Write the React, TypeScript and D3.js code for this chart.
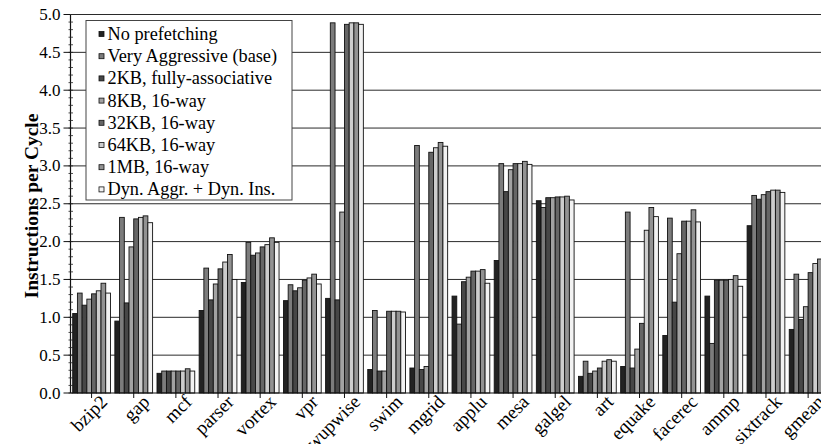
import React from "react";
import * as d3 from "d3";

const categories = [
  "bzip2", "gap", "mcf", "parser", "vortex", "vpr", "wupwise", "swim", "mgrid",
  "applu", "mesa", "galgel", "art", "equake", "facerec", "ammp", "sixtrack", "gmean",
];

const seriesNames = [
  "No prefetching",
  "Very Aggressive (base)",
  "2KB, fully-associative",
  "8KB, 16-way",
  "32KB, 16-way",
  "64KB, 16-way",
  "1MB, 16-way",
  "Dyn. Aggr. + Dyn. Ins.",
];

const noPrefetching = [1.05, 0.95, 0.26, 1.09, 1.46, 1.22, 1.25, 0.31, 0.33, 1.28, 1.75, 2.54, 0.22, 0.35, 0.76, 1.28, 2.21, 0.84];
const veryAggressive = [1.32, 2.32, 0.29, 1.65, 1.99, 1.43, 4.89, 1.09, 3.27, 0.91, 3.03, 2.45, 0.42, 2.39, 2.31, 0.655, 2.61, 1.57];
const kb2FullyAssoc = [1.16, 1.19, 0.29, 1.23, 1.82, 1.35, 1.23, 0.29, 0.31, 1.47, 2.66, 2.58, 0.26, 0.33, 1.2, 1.49, 2.56, 0.97];
const kb8Way16 = [1.24, 1.93, 0.29, 1.44, 1.85, 1.39, 2.39, 0.29, 0.35, 1.53, 2.95, 2.58, 0.29, 0.58, 1.84, 1.49, 2.62, 1.14];
const kb32Way16 = [1.31, 2.3, 0.29, 1.64, 1.93, 1.49, 4.87, 1.08, 3.18, 1.61, 3.03, 2.59, 0.33, 0.92, 2.27, 1.49, 2.66, 1.59];
const kb64Way16 = [1.35, 2.32, 0.29, 1.73, 1.96, 1.52, 4.89, 1.08, 3.24, 1.61, 3.03, 2.59, 0.42, 2.15, 2.27, 1.5, 2.68, 1.71];
const mb1Way16 = [1.45, 2.34, 0.32, 1.83, 2.05, 1.57, 4.89, 1.08, 3.31, 1.63, 3.06, 2.6, 0.44, 2.45, 2.42, 1.55, 2.68, 1.77];
const dynAggrDynIns = [1.32, 2.25, 0.29, 1.5, 1.99, 1.44, 4.87, 1.07, 3.26, 1.45, 3.02, 2.55, 0.42, 2.33, 2.26, 1.41, 2.65, 1.65];

const seriesValues = [
  noPrefetching, veryAggressive, kb2FullyAssoc, kb8Way16,
  kb32Way16, kb64Way16, mb1Way16, dynAggrDynIns,
];

const seriesColors = ["#222222", "#7c7c7c", "#474747", "#a2a2a2", "#666666", "#cdcdcd", "#929292", "#f2f2f2"];

const yTicks = [0, 0.5, 1, 1.5, 2, 2.5, 3, 3.5, 4, 4.5, 5];

const W = 821;
const H = 444;
const FONT = "'Liberation Serif', 'Times New Roman', serif";

export default function App() {
  const left = 70.5;
  const right = 829.2;
  const top = 14.5;
  const bottom = 393;

  const y = d3.scaleLinear().domain([0, 5]).range([bottom, top]);
  const x0 = d3.scaleBand<string>().domain(categories).range([left, right]).padding(0);
  const inner = 2.2;
  const x1 = d3
    .scaleBand<number>()
    .domain(d3.range(seriesNames.length))
    .range([inner, x0.bandwidth() - inner])
    .padding(0);

  const minorTicks = d3.range(0, 50).map((i) => i / 10);

  const legendX = 86;
  const legendY = 20.5;
  const legendRowH = 22.2;

  return (
    <svg
      width={W}
      height={H}
      style={{ position: "absolute", left: 0, top: 0, background: "#fff" }}
      fontFamily={FONT}
    >
      <rect x={0} y={0} width={W} height={H} fill="#fff" />

      {/* horizontal gridlines */}
      {yTicks.slice(1).map((t) => (
        <line key={`g${t}`} x1={left} x2={W} y1={y(t)} y2={y(t)} stroke="#2a2a2a" strokeWidth={1} />
      ))}

      {/* bars */}
      {categories.map((c, ci) => (
        <g key={c} transform={`translate(${x0(c)},0)`}>
          {seriesValues.map((vals, si) => (
            <rect
              key={si}
              x={x1(si)}
              y={y(vals[ci])}
              width={x1.bandwidth()}
              height={y(0) - y(vals[ci])}
              fill={seriesColors[si]}
              stroke="#111"
              strokeWidth={0.9}
            />
          ))}
        </g>
      ))}

      {/* y axis */}
      <line x1={left} x2={left} y1={top} y2={bottom} stroke="#111" strokeWidth={1.2} />
      {minorTicks.map((t) => (
        <line key={`m${t}`} x1={left - 2} x2={left + 2.5} y1={y(t)} y2={y(t)} stroke="#222" strokeWidth={0.8} />
      ))}
      {yTicks.map((t) => (
        <g key={`t${t}`}>
          <line x1={left - 7} x2={left} y1={y(t)} y2={y(t)} stroke="#111" strokeWidth={1} />
          <text x={left - 10} y={y(t) + 5.5} textAnchor="end" fontSize={17} fill="#000">
            {t.toFixed(1)}
          </text>
        </g>
      ))}

      {/* x axis */}
      <line x1={left} x2={W} y1={bottom} y2={bottom} stroke="#111" strokeWidth={1.2} />
      {categories.map((c) => {
        const cx = (x0(c) as number) + x0.bandwidth() / 2;
        return (
          <g key={`x${c}`}>
            <line x1={cx} x2={cx} y1={bottom} y2={bottom + 5} stroke="#111" strokeWidth={1} />
            <text
              transform={`translate(${cx + 17},${bottom + 10}) rotate(-45)`}
              textAnchor="end"
              fontSize={19}
              fill="#000"
            >
              {c}
            </text>
          </g>
        );
      })}

      {/* y axis title */}
      <text
        transform={`translate(${37.5},${206}) rotate(-90)`}
        textAnchor="middle"
        fontSize={19.5}
        fontWeight="bold"
        fill="#000"
      >
        Instructions per Cycle
      </text>

      {/* legend */}
      <rect x={legendX} y={legendY} width={206} height={179.5} fill="#fff" stroke="#444" strokeWidth={1} />
      {seriesNames.map((name, i) => {
        const cy = 34 + i * legendRowH;
        return (
          <g key={name}>
            <rect x={99} y={cy - 2.5} width={5} height={5} fill={seriesColors[i]} stroke="#111" strokeWidth={0.8} />
            <text x={107.5} y={cy + 6} fontSize={18.3} fill="#000">
              {name}
            </text>
          </g>
        );
      })}
    </svg>
  );
}
